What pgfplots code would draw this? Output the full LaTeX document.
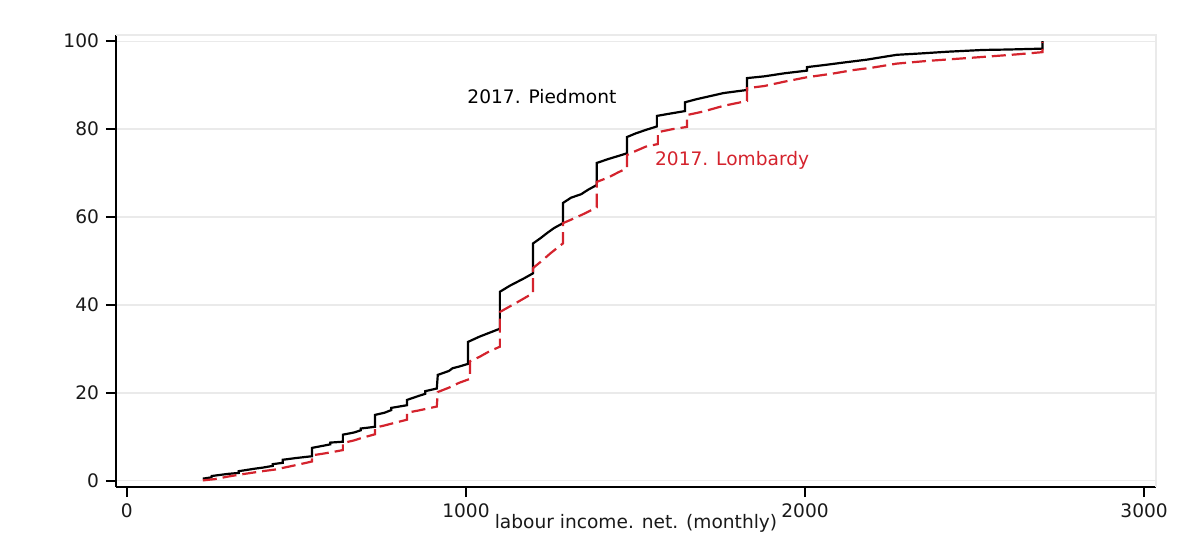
\documentclass[border=0pt]{standalone}
\usepackage{pgfplots}
\pgfplotsset{compat=1.18}
\usepackage{fontspec}
\setmainfont{DejaVu Sans}
\definecolor{lred}{RGB}{212,35,45}
\definecolor{gridc}{RGB}{234,234,234}
\begin{document}
\begin{tikzpicture}
\path[use as bounding box] (0,0) rectangle (599.5pt,274pt);
\begin{axis}[
  at={(58pt,30.5pt)}, anchor=south west,
  scale only axis, width=520pt, height=226pt,
  xmin=-32, xmax=3035, ymin=-1.4, ymax=101.4,
  axis lines*=left,
  axis line style={black, line width=0.8pt},
  xtick={0,1000,2000,3000}, ytick={0,20,40,60,80,100},
  tick align=outside, major tick length=5pt,
  tick style={black, line width=0.8pt},
  ymajorgrids, grid style={gridc, line width=0.6pt},
  /pgf/number format/assume math mode=true,
  /pgf/number format/1000 sep={},
  tick label style={font=\fontsize{9.3}{11}\selectfont, text=black!90},
  xlabel={labour income. net. (monthly)},
  xlabel style={font=\fontsize{9.3}{11}\selectfont, text=black!90, at={(rel axis cs:0.5,0)}, anchor=center, yshift=-18pt},
  clip=false,
]
\draw[gridc, line width=0.6pt] (rel axis cs:0,1) -- (rel axis cs:1,1) -- (rel axis cs:1,0);
\addplot[black, line width=1.1pt] coordinates {
(224,0.5) (250,0.8) (250,1.1) (300,1.6) (330,1.8) (330,2.2) (380,2.8) (400,3.0) (430,3.4) (430,3.8) (460,4.1) (460,4.8) (500,5.2) (546,5.6) (546,7.5) (580,8.0) (600,8.3) (600,8.7) (637,8.9) (637,10.5) (670,11.0) (690,11.5) (690,11.9) (732,12.3) (732,15.0) (760,15.5) (780,16.1) (780,16.6) (826,17.2) (826,18.4) (860,19.3) (880,19.8) (880,20.4) (914,21.0) (917,24.1) (950,25.0) (960,25.6) (980,26.0) (1006,26.6) (1006,31.6) (1040,32.8) (1060,33.4) (1080,34.0) (1100,34.6) (1100,43.0) (1130,44.4) (1150,45.2) (1170,46.0) (1198,47.2) (1198,54.0) (1220,55.2) (1240,56.4) (1260,57.5) (1286,58.6) (1286,63.2) (1310,64.4) (1340,65.2) (1360,66.2) (1386,67.3) (1386,72.3) (1420,73.2) (1450,73.9) (1475,74.5) (1475,78.2) (1500,79.0) (1530,79.8) (1563,80.6) (1563,83.0) (1600,83.5) (1646,84.1) (1646,86.1) (1680,86.8) (1720,87.5) (1760,88.2) (1829,88.9) (1829,91.6) (1880,92.0) (1940,92.7) (2006,93.3) (2006,94.1) (2060,94.6) (2120,95.2) (2183,95.8) (2230,96.4) (2271,96.9) (2340,97.2) (2420,97.6) (2525,98.0) (2600,98.1) (2700,98.3) (2700,100)
};
\addplot[lred, line width=1.1pt, dash pattern=on 7pt off 3pt] coordinates {
(224,0.1) (260,0.4) (300,1.0) (340,1.5) (400,2.2) (440,2.6) (457,2.9) (500,3.6) (546,4.4) (546,5.8) (580,6.2) (610,6.6) (637,7.0) (637,8.6) (670,9.2) (690,9.7) (732,10.6) (732,12.1) (760,12.6) (800,13.4) (826,13.9) (826,15.5) (860,16.0) (890,16.5) (914,16.9) (917,20.2) (950,21.2) (980,22.3) (1012,23.2) (1012,27.2) (1040,28.2) (1070,29.5) (1100,30.5) (1100,38.4) (1130,39.7) (1160,41.0) (1198,42.7) (1198,48.4) (1220,49.8) (1250,51.8) (1286,54.0) (1286,58.6) (1310,59.4) (1350,60.8) (1386,62.2) (1386,68.0) (1420,69.0) (1450,70.2) (1475,71.1) (1475,74.1) (1500,75.0) (1530,76.0) (1566,76.6) (1566,79.3) (1610,80.0) (1652,80.5) (1652,83.2) (1700,84.0) (1760,85.3) (1829,86.4) (1829,89.3) (1880,89.8) (1940,90.8) (2006,91.8) (2080,92.6) (2140,93.4) (2200,94.0) (2271,94.9) (2360,95.5) (2450,96.0) (2540,96.5) (2625,97.0) (2700,97.5) (2700,99.8)
};
\node[font=\fontsize{9.3}{11}\selectfont, text=black] at (axis cs:1224,87.5) {2017. Piedmont};
\node[font=\fontsize{9.3}{11}\selectfont, text=lred] at (axis cs:1785,73) {2017. Lombardy};
\end{axis}
\end{tikzpicture}
\end{document}
